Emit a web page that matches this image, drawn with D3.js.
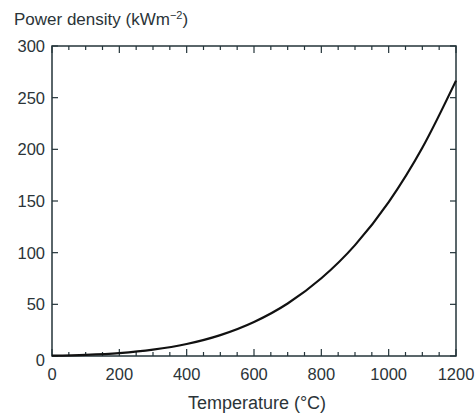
<!DOCTYPE html>
<html><head><meta charset="utf-8">
<script src="https://cdn.jsdelivr.net/npm/d3@7"></script>
<style>
body{margin:0;background:#fff;}
text{font-family:"Liberation Sans",Arial,sans-serif;fill:#2b3438;}
</style></head>
<body><svg id="c" width="476" height="417"></svg>
<script>
const temperatures = [0,100,200,300,400,500,600,700,800,900,1000,1100,1200];
const powerDensity = [0.3,1.1,2.8,6.1,11.6,20.2,32.9,50.8,75.2,107.3,148.9,201.5,266.5];
const xTicks = [0,200,400,600,800,1000,1200];
const xMinorTicks = d3.range(0,1201,50);
const yTicks = [0,50,100,150,200,250,300];
const yTitle = "Power density (kWm";
const xTitle = "Temperature (°C)";

const svg = d3.select("#c");
const L=52,R=456,T=46,B=356;
const x = d3.scaleLinear().domain([0,1200]).range([L,R]);
const y = d3.scaleLinear().domain([0,300]).range([B,T]);
const axisColor="#24343a";

svg.append("rect").attr("x",L).attr("y",T).attr("width",R-L).attr("height",B-T)
  .attr("fill","none").attr("stroke",axisColor).attr("stroke-width",1.5);

const g=svg.append("g").attr("stroke",axisColor).attr("stroke-width",1.2);
xMinorTicks.forEach(v=>{
  const major = v%200===0;
  const len = major?7:4;
  g.append("line").attr("x1",x(v)).attr("x2",x(v)).attr("y1",B).attr("y2",B-len);
  g.append("line").attr("x1",x(v)).attr("x2",x(v)).attr("y1",T).attr("y2",T+len);
});
yTicks.forEach(v=>{
  g.append("line").attr("x1",L).attr("x2",L+6).attr("y1",y(v)).attr("y2",y(v));
  g.append("line").attr("x1",R).attr("x2",R-6).attr("y1",y(v)).attr("y2",y(v));
});

svg.selectAll(".yl").data(yTicks).enter().append("text")
  .attr("x",45).attr("y",d=>y(d)+6+(d===0?4:0)).attr("text-anchor","end")
  .attr("font-size",16.5).text(d=>d);
svg.selectAll(".xl").data(xTicks).enter().append("text")
  .attr("x",d=>x(d)).attr("y",B+24).attr("text-anchor","middle")
  .attr("font-size",16.5).text(d=>d);

const yt = svg.append("text").attr("x",14).attr("y",25).attr("font-size",17);
yt.append("tspan").text(yTitle);
yt.append("tspan").attr("dy",-6).attr("font-size",11).text("−2");
yt.append("tspan").attr("dy",6).text(")");

svg.append("text").attr("x",257).attr("y",409).attr("text-anchor","middle")
  .attr("font-size",18).text(xTitle);

const line = d3.line().x((d,i)=>x(temperatures[i])).y(d=>y(d)).curve(d3.curveMonotoneX);
svg.append("path").attr("d",line(powerDensity)).attr("fill","none")
  .attr("stroke","#111").attr("stroke-width",2.2);
</script></body></html>
